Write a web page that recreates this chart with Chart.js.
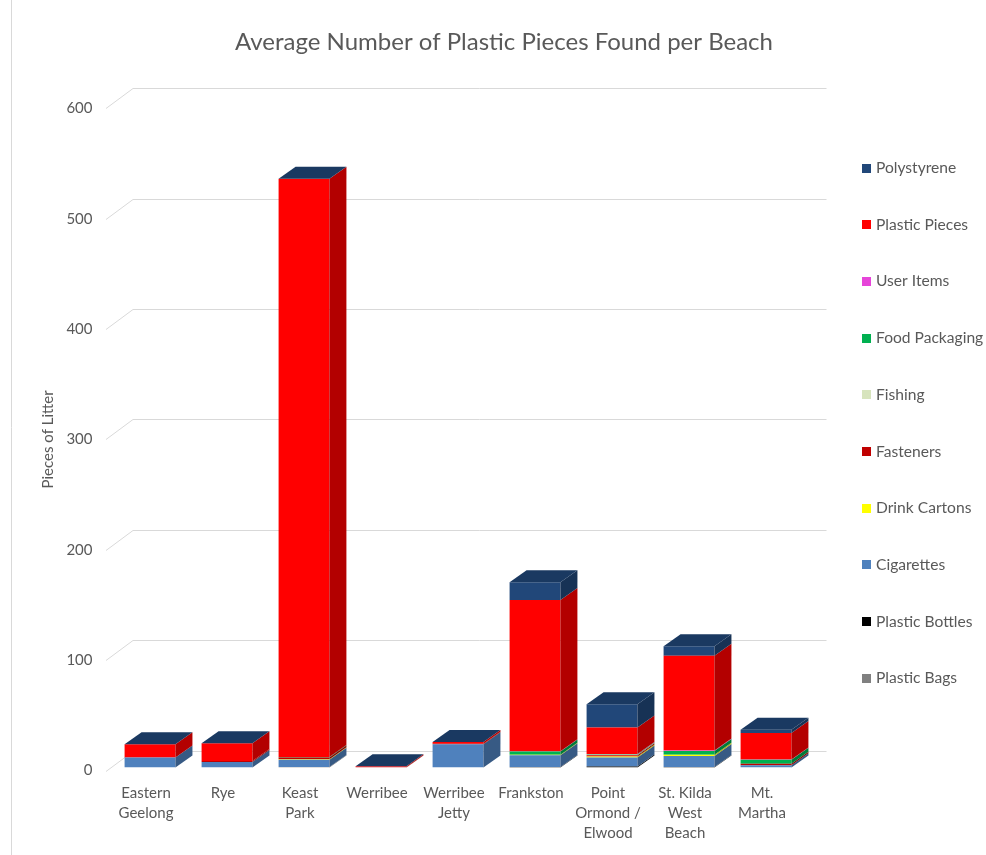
<!DOCTYPE html>
<html>
<head>
<meta charset="utf-8">
<script src="https://cdn.jsdelivr.net/npm/chart.js@4/dist/chart.umd.min.js"></script>
<style>
  body { margin: 0; background: #fff; }
</style>
</head>
<body>
<canvas id="myChart" width="986" height="855"></canvas>
<script>
// beaches along the x axis
var beaches = [['Eastern', 'Geelong'], 'Rye', ['Keast', 'Park'], 'Werribee', ['Werribee', 'Jetty'],
               'Frankston', ['Point', 'Ormond /', 'Elwood'], ['St. Kilda', 'West', 'Beach'], ['Mt.', 'Martha']];

// litter per category, bottom of the stack first
var plasticBags    = [0, 0, 0.5, 0, 0, 0, 0, 0, 0];
var plasticBottles = [0, 0, 0, 0, 0, 0.5, 1, 0.5, 0];
var cigarettes     = [9, 5, 6.5, 0, 21, 10.5, 8, 10, 2];
var drinkCartons   = [0, 0, 0.5, 0, 0, 0.5, 1, 1, 0];
var fasteners      = [0, 1, 1.5, 0.2, 0.5, 0, 1, 0, 1.5];
var fishing        = [0, 0, 0, 0, 0, 0, 0.5, 0, 0];
var foodPackaging  = [0, 0, 0.5, 0, 0, 3, 0.5, 3.5, 3.5];
var userItems      = [0, 0, 0, 0, 0, 0.3, 0.3, 0.3, 0.3];
var plasticPieces  = [12, 16, 524, 1, 1.5, 137, 24, 86, 24];
var polystyrene    = [0, 0, 0, 0, 0, 16, 21, 8.5, 3];

var yTicks = [0, 100, 200, 300, 400, 500, 600];

var textColor = '#595959';
var fontName = 'Lato';

// fake 3d look, like the excel chart
var depthX = 17, depthY = -12;
var shiftX = 4, shiftY = -3;

function shade(hex, f) {
  var n = parseInt(hex.slice(1), 16);
  var r = Math.round(((n >> 16) & 255) * f);
  var g = Math.round(((n >> 8) & 255) * f);
  var b = Math.round((n & 255) * f);
  return 'rgb(' + r + ',' + g + ',' + b + ')';
}

var bars3d = {
  id: 'bars3d',
  beforeDatasetsDraw: function(chart) {
    var ctx = chart.ctx;
    var y = chart.scales.y;
    var left = chart.chartArea.left;
    ctx.save();
    ctx.strokeStyle = '#d9d9d9';
    ctx.lineWidth = 1;
    y.ticks.forEach(function(t) {
      var py = Math.round(y.getPixelForValue(t.value)) + 0.5;
      ctx.beginPath();
      ctx.moveTo(left - 1.5, py);
      ctx.lineTo(left + 25.5, py - 20);
      ctx.lineTo(826.5, py - 20);
      ctx.stroke();
    });
    // left border of the chart box
    ctx.beginPath();
    ctx.moveTo(11.5, 0);
    ctx.lineTo(11.5, 855);
    ctx.stroke();
    ctx.restore();
    ctx.save();
    ctx.translate(shiftX, shiftY);
  },
  afterDatasetsDraw: function(chart) {
    var ctx = chart.ctx;
    chart.data.datasets.forEach(function(ds, di) {
      var meta = chart.getDatasetMeta(di);
      var side = shade(ds.backgroundColor, 0.7);
      meta.data.forEach(function(bar) {
        var p = bar.getProps(['x', 'y', 'base', 'width'], true);
        if (Math.abs(p.base - p.y) < 0.01) return;
        var r = p.x + p.width / 2;
        ctx.fillStyle = side;
        ctx.beginPath();
        ctx.moveTo(r, p.y);
        ctx.lineTo(r + depthX, p.y + depthY);
        ctx.lineTo(r + depthX, p.base + depthY);
        ctx.lineTo(r, p.base);
        ctx.closePath();
        ctx.fill();
      });
    });
    var lastIdx = chart.data.datasets.length - 1;
    var topColor = shade(chart.data.datasets[lastIdx].backgroundColor, 0.8);
    chart.getDatasetMeta(lastIdx).data.forEach(function(bar) {
      var p = bar.getProps(['x', 'y', 'width'], true);
      var l = p.x - p.width / 2, r = p.x + p.width / 2;
      ctx.fillStyle = topColor;
      ctx.beginPath();
      ctx.moveTo(l, p.y);
      ctx.lineTo(l + depthX, p.y + depthY);
      ctx.lineTo(r + depthX, p.y + depthY);
      ctx.lineTo(r, p.y);
      ctx.closePath();
      ctx.fill();
    });
    ctx.restore();
  },
  afterDraw: function(chart) {
    // legend on the right, top of stack first
    var ctx = chart.ctx;
    var ds = chart.data.datasets.slice().reverse();
    ctx.save();
    ctx.font = '15.6px ' + fontName;
    ctx.textBaseline = 'middle';
    ctx.textAlign = 'left';
    ds.forEach(function(d, i) {
      var cy = 168 + i * 56.7;
      ctx.fillStyle = d.backgroundColor;
      ctx.fillRect(862, Math.round(cy - 4.5), 9, 9);
      ctx.fillStyle = textColor;
      ctx.fillText(d.label, 876, cy);
    });
    ctx.restore();
  }
};

var ctx = document.getElementById('myChart').getContext('2d');
var myChart = new Chart(ctx, {
  type: 'bar',
  data: {
    labels: beaches,
    datasets: [
      { label: 'Plastic Bags', data: plasticBags, backgroundColor: '#808080' },
      { label: 'Plastic Bottles', data: plasticBottles, backgroundColor: '#000000' },
      { label: 'Cigarettes', data: cigarettes, backgroundColor: '#4F81BD' },
      { label: 'Drink Cartons', data: drinkCartons, backgroundColor: '#FFFF00' },
      { label: 'Fasteners', data: fasteners, backgroundColor: '#C00000' },
      { label: 'Fishing', data: fishing, backgroundColor: '#D7E4BD' },
      { label: 'Food Packaging', data: foodPackaging, backgroundColor: '#00B050' },
      { label: 'User Items', data: userItems, backgroundColor: '#E645D9' },
      { label: 'Plastic Pieces', data: plasticPieces, backgroundColor: '#FF0000' },
      { label: 'Polystyrene', data: polystyrene, backgroundColor: '#214779' }
    ]
  },
  options: {
    responsive: false,
    animation: false,
    layout: { padding: { left: 22, right: 0, top: 0, bottom: 0 } },
    datasets: {
      bar: { categoryPercentage: 1, barPercentage: 0.66, borderWidth: 0 }
    },
    scales: {
      x: {
        stacked: true,
        grid: { display: false, drawTicks: false },
        border: { display: false },
        ticks: {
          color: textColor,
          font: { family: fontName, size: 15, lineHeight: '20px' },
          padding: 12.5,
          maxRotation: 0,
          autoSkip: false
        },
        afterFit: function(axis) { axis.height = 84.5; }
      },
      y: {
        stacked: true,
        min: yTicks[0],
        max: yTicks[yTicks.length - 1],
        grid: { display: false, drawTicks: false },
        border: { display: false },
        ticks: {
          stepSize: 100,
          color: textColor,
          font: { family: fontName, size: 15 },
          padding: 15
        },
        title: {
          display: true,
          text: 'Pieces of Litter',
          color: textColor,
          font: { family: fontName, size: 15 },
          padding: { top: 17, bottom: 0 }
        },
        afterFit: function(axis) { axis.width = 85.5; }
      },
      yR: {
        type: 'linear',
        position: 'right',
        grid: { display: false, drawTicks: false },
        border: { display: false },
        ticks: { display: false },
        afterFit: function(axis) { axis.width = 185.5; }
      }
    },
    plugins: {
      legend: { display: false },
      tooltip: { enabled: false },
      title: {
        display: true,
        text: 'Average Number of Plastic Pieces Found per Beach',
        color: textColor,
        font: { family: fontName, size: 24, weight: 'normal' },
        padding: { top: 27.6, bottom: 51.9 }
      }
    }
  },
  plugins: [bars3d]
});
</script>
</body>
</html>
